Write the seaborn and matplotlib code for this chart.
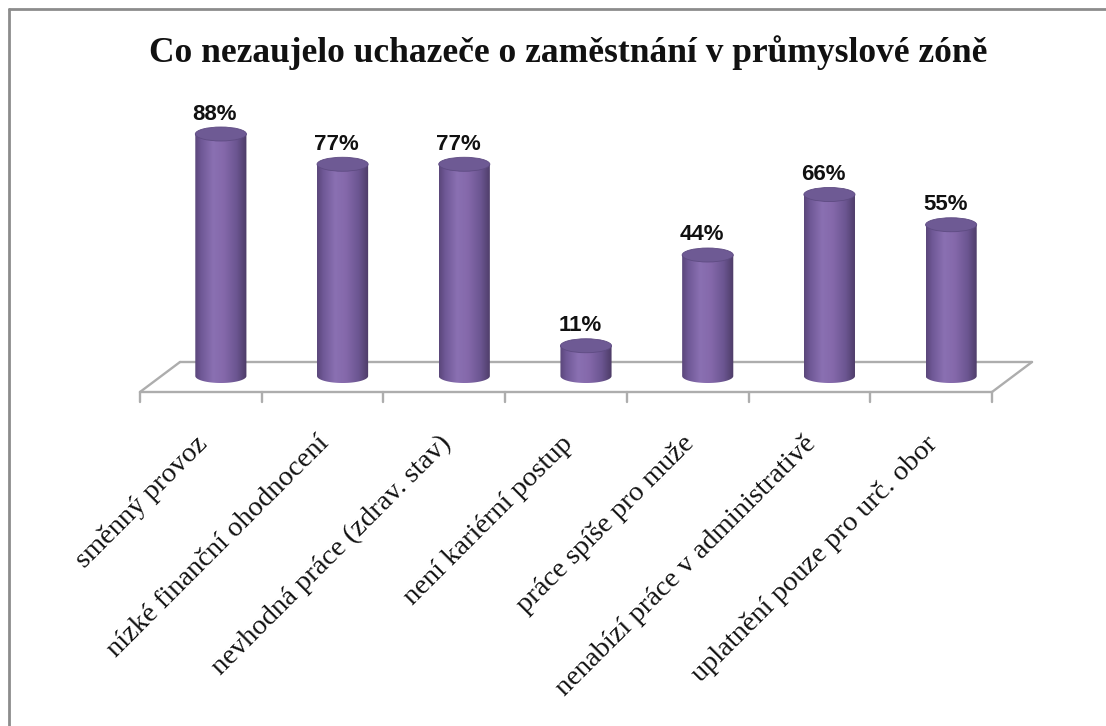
import numpy as np
import pandas as pd
import matplotlib.pyplot as plt
import seaborn as sns
from matplotlib.colors import LinearSegmentedColormap
from matplotlib.patches import Ellipse
from matplotlib.path import Path
from matplotlib.lines import Line2D

sns.set_style("white")

# data
kategorie = ["směnný provoz", "nízké finanční ohodnocení", "nevhodná práce (zdrav. stav)",
             "není kariérní postup", "práce spíše pro muže", "nenabízí práce v administrativě",
             "uplatnění pouze pro urč. obor"]
hodnoty = [88, 77, 77, 11, 44, 66, 55]
titulek = "Co nezaujelo uchazeče o zaměstnání v průmyslové zóně"

df = pd.DataFrame({"kat": kategorie, "pct": hodnoty})

W, H = 1106, 726
fig = plt.figure(figsize=(W / 100, H / 100), dpi=100)
# pixel layout: bar centres at 221 + i*121.7, zero at y=376, 2.75 px per %
ax = fig.add_axes([160 / W, 1 - 398 / H, 852 / W, 297 / H])

sns.barplot(data=df, x="kat", y="pct", width=0.42, color="#8064A2", ax=ax)
ax.set_xlim(-0.5, 6.5)
ax.set_ylim(-8, 100)
ax.axis("off")

px_y = 2.75          # px per y unit
px_x = 121.7         # px per category
depth = 20 / px_x    # half of the 3D floor offset
eh = 14 / px_y       # ellipse height in data units

# floor
n = len(kategorie)
yf, yb = -16 / px_y, 14 / px_y
xf0, xf1 = -0.5 - depth, n - 0.5 - depth
xb0, xb1 = -0.5 + depth, n - 0.5 + depth
floor_kw = dict(color="#adadad", lw=1.7, clip_on=False, zorder=1)
ax.plot([xf0, xf1], [yf, yf], **floor_kw)
ax.plot([xb0, xb1], [yb, yb], **floor_kw)
ax.plot([xf0, xb0], [yf, yb], **floor_kw)
ax.plot([xf1, xb1], [yf, yb], **floor_kw)
for i in range(n + 1):
    x = i - 0.5 - depth
    ax.plot([x, x], [yf, yf - 10 / px_y], **floor_kw)

# cylinders
cmap = LinearSegmentedColormap.from_list(
    "valec", [(0, "#5a467a"), (0.12, "#6f5896"), (0.35, "#8a70b2"),
              (0.55, "#8569ab"), (0.8, "#6c5692"), (1, "#4c3b66")])
grad = np.linspace(0, 1, 256).reshape(1, -1)
for p in list(ax.patches):
    x0, w, h = p.get_x(), p.get_width(), p.get_height()
    cx = x0 + w / 2
    p.set_visible(False)
    t = np.linspace(np.pi, 2 * np.pi, 60)
    pts = [(x0, h)] + list(zip(cx + w / 2 * np.cos(t), eh / 2 * np.sin(t))) + [(x0 + w, h), (x0, h)]
    codes = [Path.MOVETO] + [Path.LINETO] * (len(pts) - 2) + [Path.CLOSEPOLY]
    im = ax.imshow(grad, cmap=cmap, extent=[x0, x0 + w, -eh / 2, h], aspect="auto",
                   interpolation="bilinear", zorder=3)
    im.set_clip_path(Path(pts, codes), ax.transData)
    ax.add_patch(Ellipse((cx, h), w, eh, facecolor="#6e5a94", edgecolor="#5e4b82",
                         lw=0.6, zorder=4))
    ax.annotate(f"{h:.0f}%", (cx, h), xytext=(-4.3, 14.4), textcoords="offset points",
                ha="center", va="center", fontsize=16, fontweight="bold",
                family="Liberation Sans", color="#111111", zorder=5)

ax.set_xlim(-0.5, 6.5)
ax.set_ylim(-8, 100)

# category labels
for i, k in enumerate(kategorie):
    ax.text(i - 0.14, -64 / px_y, k, rotation=45, rotation_mode="anchor",
            ha="right", va="center", fontsize=20.5, family="Liberation Serif",
            color="#111111", clip_on=False)

fig.text(568 / W, 1 - 62 / H, titulek, ha="center", va="baseline", fontsize=25.5,
         fontweight="bold", family="Liberation Serif", color="#111111")

# frame (top and left only visible)
fig.add_artist(Line2D([9 / W, 9 / W], [0, 1 - 9 / H], color="#8c8c8c", lw=2))
fig.add_artist(Line2D([9 / W, 1], [1 - 9 / H, 1 - 9 / H], color="#8c8c8c", lw=2))

fig.savefig("out.png", dpi=100)
